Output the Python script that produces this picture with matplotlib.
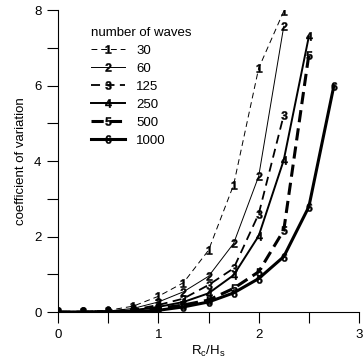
import matplotlib.pyplot as plt
from matplotlib.ticker import MultipleLocator

plt.rcParams["font.family"] = ["Liberation Sans", "DejaVu Sans"]
plt.rcParams["font.size"] = 9
plt.rcParams["mathtext.fontset"] = "custom"
plt.rcParams["mathtext.rm"] = "Liberation Sans"
plt.rcParams["mathtext.it"] = "Liberation Sans"
plt.rcParams["mathtext.bf"] = "Liberation Sans:bold"

# relative freeboard Rc/Hs
rc_hs = [0, 0.25, 0.5, 0.75, 1, 1.25, 1.5, 1.75, 2, 2.25, 2.5, 2.75]

waves_30 = [0.02, 0.02, 0.05, 0.16, 0.42, 0.78, 1.64, 3.37, 6.46, 7.97]
waves_60 = [0.02, 0.02, 0.03, 0.10, 0.27, 0.54, 0.95, 1.82, 3.60, 7.57]
waves_125 = [0.01, 0.01, 0.02, 0.07, 0.19, 0.36, 0.72, 1.16, 2.60, 5.22]
waves_250 = [0.01, 0.01, 0.02, 0.05, 0.14, 0.27, 0.50, 0.98, 2.02, 4.03, 7.30]
waves_500 = [0.0, 0.0, 0.01, 0.03, 0.10, 0.19, 0.32, 0.63, 1.07, 2.17, 6.82]
waves_1000 = [0.0, 0.0, 0.0, 0.02, 0.05, 0.14, 0.27, 0.51, 0.89, 1.47, 2.79, 6.00]

labels = ["30", "60", "125", "250", "500", "1000"]
series = [waves_30, waves_60, waves_125, waves_250, waves_500, waves_1000]
styles = [
    ((0, (6, 4)), 0.7),
    ("-", 0.7),
    ((0, (5, 3)), 1.3),
    ("-", 1.4),
    ((0, (4, 2)), 2.2),
    ("-", 2.2),
]

fig = plt.figure(figsize=(3.63, 3.58), dpi=100)
ax = fig.add_axes([0.16, 0.128, 0.829, 0.844])

for i, (vals, lab, (ls, lw)) in enumerate(zip(series, labels, styles)):
    ax.plot(
        rc_hs[: len(vals)], vals,
        color="black", linestyle=ls, linewidth=lw,
        marker=r"$\mathbf{%d}$" % (i + 1), markersize=6,
        markeredgewidth=0.3, label=lab,
    )

ax.set_xlim(0, 3)
ax.set_ylim(0, 8)
ax.xaxis.set_major_locator(MultipleLocator(1))
ax.xaxis.set_minor_locator(MultipleLocator(0.5))
ax.yaxis.set_major_locator(MultipleLocator(2))
ax.yaxis.set_minor_locator(MultipleLocator(1))
ax.tick_params(which="both", direction="out", length=8, width=0.8,
               labelsize=9.5, pad=4)
ax.spines["top"].set_visible(False)
ax.spines["right"].set_visible(False)
ax.set_xlabel(r"R$_c$/H$_s$", fontsize=9.5, labelpad=2)
ax.set_ylabel("coefficient of variation", fontsize=9.5, labelpad=5)

leg = ax.legend(title="number of waves", loc="upper left",
                bbox_to_anchor=(0.11, 0.945), frameon=False, fontsize=9.5,
                title_fontsize=9.5, handlelength=2.6, handletextpad=0.8,
                labelspacing=0.44, borderaxespad=0, borderpad=0)
leg._legend_box.align = "left"

fig.savefig("out.png", dpi=100)
